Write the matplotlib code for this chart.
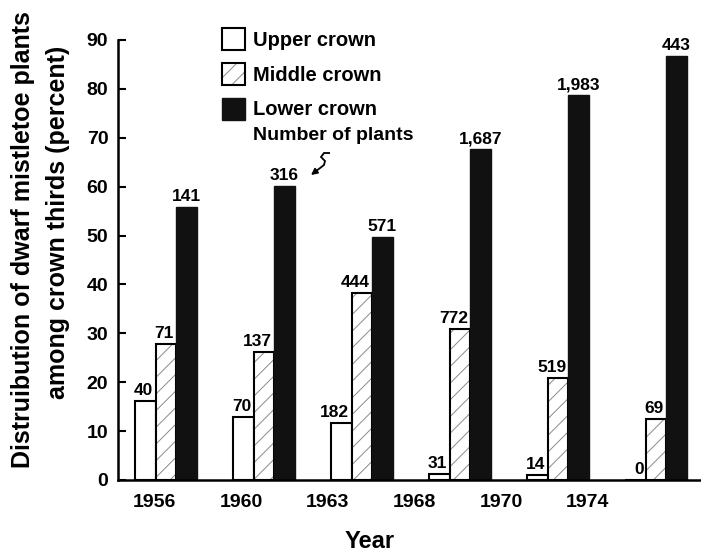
import matplotlib
matplotlib.use('Agg')
import matplotlib.pyplot as plt
from matplotlib.legend_handler import HandlerTuple
from matplotlib.path import Path
from matplotlib.patches import PathPatch

# Percent of plants per crown third
years = ['1956', '1960', '1963', '1968', '1970', '1974']
upper = [16.2, 12.9, 11.7, 1.2, 1.0, 0.0]
middle = [27.8, 26.2, 38.2, 30.9, 20.9, 12.5]
lower = [55.8, 60.1, 49.7, 67.7, 78.7, 86.7]

# Number of plants printed above each bar
upper_n = ['40', '70', '182', '31', '14', '0']
middle_n = ['71', '137', '444', '772', '519', '69']
lower_n = ['141', '316', '571', '1,687', '1,983', '443']

plt.rcParams['font.family'] = ['Liberation Sans', 'DejaVu Sans']
plt.rcParams['font.weight'] = 'bold'
plt.rcParams['hatch.linewidth'] = 0.7

W, H = 701, 551
fig = plt.figure(figsize=(W / 100, H / 100), dpi=100)
ax = fig.add_axes([118 / W, 1 - 480 / H, (700 - 118) / W, (480 - 40) / H])

w = 0.21
x = list(range(len(years)))
xu = [i + 0.5 * w for i in x]
xm = [i + 1.5 * w for i in x]
xl = [i + 2.5 * w for i in x]

b_up = ax.bar(xu, upper, w, facecolor='white', edgecolor='black', linewidth=1.5)
b_mid_h = ax.bar(xm, middle, w, facecolor='white', edgecolor='#8a8a8a',
                 hatch='//', linewidth=0)
b_mid = ax.bar(xm, middle, w, fill=False, edgecolor='black', linewidth=1.5)
b_low = ax.bar(xl, lower, w, facecolor='#111111', edgecolor='#111111', linewidth=1)

# upper and middle counts sit flush right over their bar, lower counts centred
for xs, vals, labs in [(xu, upper, upper_n), (xm, middle, middle_n)]:
    for xi, v, lab in zip(xs, vals, labs):
        ax.annotate(lab, (xi + w / 2, v), xytext=(-1.5, 2), textcoords='offset points',
                    ha='right', va='bottom', fontsize=12.5, fontweight='bold')
for xi, v, lab in zip(xl, lower, lower_n):
    ax.annotate(lab, (xi, v), xytext=(0, 2), textcoords='offset points',
                ha='center', va='bottom', fontsize=12.5, fontweight='bold')

ax.set_xlim(-0.173, 5.765)
ax.set_ylim(0, 90)
ax.set_yticks(range(0, 91, 10))
ax.set_xticks([0.2 + 0.884 * i for i in x])
ax.set_xticklabels(years)
ax.tick_params(axis='x', length=0, pad=10, labelsize=14)
ax.tick_params(axis='y', direction='in', length=6, width=1.5, pad=7, labelsize=14)
for s in ['top', 'right']:
    ax.spines[s].set_visible(False)
ax.spines['left'].set_linewidth(1.8)
ax.spines['bottom'].set_linewidth(1.8)

fig.text(370 / W, 1 - 541 / H, 'Year', ha='center', va='center',
         fontsize=17, fontweight='bold')
fig.text(23 / W, 1 - 240 / H, 'Distruibution of dwarf mistletoe plants',
         rotation=90, ha='center', va='center', fontsize=18, fontweight='bold')
fig.text(58 / W, 1 - 222 / H, 'among crown thirds (percent)',
         rotation=90, ha='center', va='center', fontsize=18, fontweight='bold')

leg = fig.legend([b_up, (b_mid_h, b_mid), b_low],
                 ['Upper crown', 'Middle crown', 'Lower crown'],
                 handler_map={tuple: HandlerTuple(ndivide=1, pad=0)},
                 loc='upper left', bbox_to_anchor=(222 / W, 1 - 28 / H),
                 bbox_transform=fig.transFigure, frameon=False, borderpad=0,
                 borderaxespad=0, fontsize=14.5, handlelength=1.15,
                 handleheight=1.3, handletextpad=0.4, labelspacing=0.64)

fig.text(253 / W, 1 - 136 / H, 'Number of plants', ha='left', va='center',
         fontsize=14, fontweight='bold')

# squiggle pointing at the 316 label
pts = [(330, 153), (324, 153), (321, 157), (325, 161), (324, 165), (311, 175)]
pts = [(px / W, 1 - py / H) for px, py in pts]
ax.annotate('', xy=pts[-1], xytext=pts[-2], xycoords=fig.transFigure,
            textcoords=fig.transFigure,
            arrowprops=dict(arrowstyle='-|>', color='black', lw=1.3,
                            mutation_scale=9, shrinkA=0, shrinkB=0))
fig.add_artist(PathPatch(Path(pts[:-1]), transform=fig.transFigure, fill=False,
                         lw=1.3, edgecolor='black', clip_on=False))

fig.savefig('out.png', dpi=100)
